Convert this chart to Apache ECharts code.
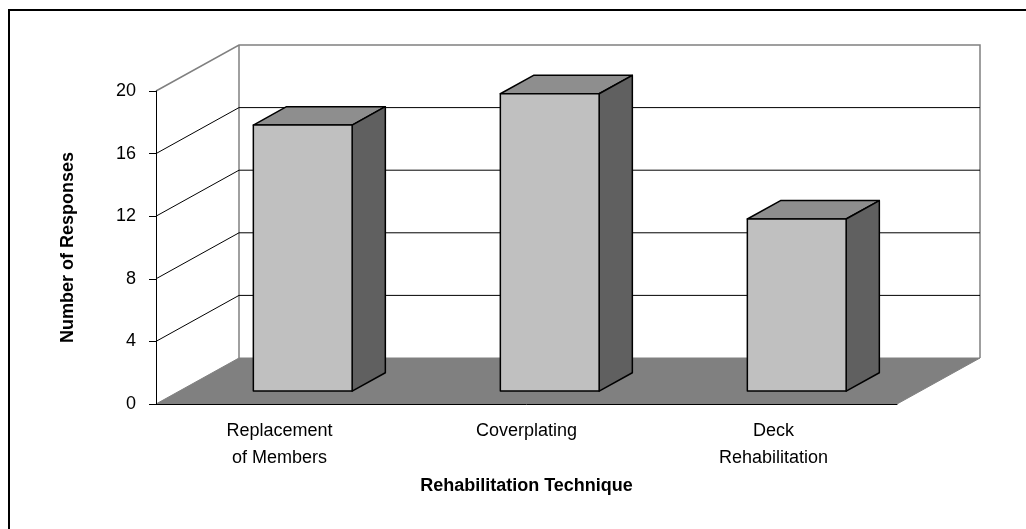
<!DOCTYPE html>
<html>
<head>
<meta charset="utf-8">
<script src="https://cdn.jsdelivr.net/npm/echarts@6/dist/echarts.min.js"></script>
<style>
  html, body { margin: 0; padding: 0; background: #fff; }
  #chart { width: 1026px; height: 529px; }
</style>
</head>
<body>
<div id="chart"></div>
<script>
// data
const categories = ['Replacement\nof Members', 'Coverplating', 'Deck\nRehabilitation']
const responses = [17, 19, 11]
const gridValues = [4, 8, 12, 16] // inner gridlines on the walls
const yMax = 20
const yStep = 4

// 3d look: offset of the back wall, and where the bars sit in depth
const DEPTH_X = 83
const DEPTH_Y = -46
const BAR_D0 = 0.28
const BAR_D1 = 0.68
const BAR_FRAC = 0.4
const FONT = "'Liberation Sans', Arial, sans-serif"

const chart = echarts.init(document.getElementById('chart'))

// floor + walls, built from the grid rect
function renderFrame(params, api) {
  const cs = params.coordSys
  const l = cs.x, r = cs.x + cs.width
  const t = cs.y, b = cs.y + cs.height
  const line = { stroke: '#808080', lineWidth: 1.5, fill: null }
  return {
    type: 'group',
    children: [
      {
        type: 'polygon',
        shape: { points: [[l, b], [l + DEPTH_X, b + DEPTH_Y], [r + DEPTH_X, b + DEPTH_Y], [r, b]] },
        style: { fill: '#808080', stroke: '#808080', lineWidth: 1 }
      },
      {
        type: 'polyline',
        shape: { points: [[l, t], [l + DEPTH_X, t + DEPTH_Y], [r + DEPTH_X, t + DEPTH_Y], [r + DEPTH_X, b + DEPTH_Y]] },
        style: line
      },
      {
        type: 'line',
        shape: { x1: l + DEPTH_X, y1: t + DEPTH_Y, x2: l + DEPTH_X, y2: b + DEPTH_Y },
        style: line
      }
    ]
  }
}

function renderGridLine(params, api) {
  const cs = params.coordSys
  const y = api.coord([0, api.value(0)])[1]
  const l = cs.x, r = cs.x + cs.width
  return {
    type: 'polyline',
    shape: { points: [[l, y], [l + DEPTH_X, y + DEPTH_Y], [r + DEPTH_X, y + DEPTH_Y]] },
    style: { stroke: '#000', lineWidth: 1, fill: null }
  }
}

function renderBar(params, api) {
  const cat = api.value(0)
  const val = api.value(1)
  const base = api.coord([cat, 0])
  const top = api.coord([cat, val])
  const bw = api.size([1, 0])[0] * BAR_FRAC
  const x0 = base[0] - bw / 2 + DEPTH_X * BAR_D0
  const x1 = x0 + bw
  const y0 = base[1] + DEPTH_Y * BAR_D0
  const y1 = top[1] + DEPTH_Y * BAR_D0
  const dx = DEPTH_X * (BAR_D1 - BAR_D0)
  const dy = DEPTH_Y * (BAR_D1 - BAR_D0)
  const edge = { stroke: '#000', lineWidth: 1.5, lineJoin: 'round' }
  return {
    type: 'group',
    children: [
      {
        type: 'polygon',
        shape: { points: [[x0, y1], [x0 + dx, y1 + dy], [x1 + dx, y1 + dy], [x1, y1]] },
        style: Object.assign({ fill: '#8e8e8e' }, edge)
      },
      {
        type: 'polygon',
        shape: { points: [[x1, y1], [x1 + dx, y1 + dy], [x1 + dx, y0 + dy], [x1, y0]] },
        style: Object.assign({ fill: '#606060' }, edge)
      },
      {
        type: 'rect',
        shape: { x: x0, y: y1, width: bw, height: y0 - y1 },
        style: Object.assign({ fill: '#c0c0c0' }, edge)
      }
    ]
  }
}

const option = {
  backgroundColor: '#fff',
  animation: false,
  textStyle: { fontFamily: FONT },
  graphic: [
    {
      type: 'rect',
      shape: { x: 9, y: 10, width: 1100, height: 600 },
      style: { fill: null, stroke: '#000', lineWidth: 2 },
      silent: true
    }
  ],
  grid: {
    left: 156,
    top: 91,
    width: 741,
    height: 313
  },
  xAxis: {
    type: 'category',
    data: categories,
    z: 10,
    name: 'Rehabilitation Technique',
    nameLocation: 'middle',
    nameGap: 69,
    nameTextStyle: { fontSize: 18, fontWeight: 'bold', color: '#000', fontFamily: FONT },
    axisLine: { lineStyle: { color: '#000', width: 1 } },
    axisTick: { length: 7, lineStyle: { color: '#000' } },
    axisLabel: { fontSize: 18, color: '#000', margin: 14, lineHeight: 27, interval: 0, fontFamily: FONT }
  },
  yAxis: {
    type: 'value',
    min: 0,
    max: yMax,
    interval: yStep,
    z: 10,
    name: 'Number of Responses',
    nameLocation: 'middle',
    nameGap: 79,
    nameTextStyle: { fontSize: 18, fontWeight: 'bold', color: '#000', fontFamily: FONT },
    axisLine: { show: true, lineStyle: { color: '#000', width: 1 } },
    axisTick: { show: true, length: 7, lineStyle: { color: '#000' } },
    axisLabel: { fontSize: 18, color: '#000', margin: 20, fontFamily: FONT },
    splitLine: { show: false }
  },
  series: [
    {
      type: 'custom',
      name: 'frame',
      renderItem: renderFrame,
      data: [[0, 0]],
      clip: false,
      silent: true,
      z: 1
    },
    {
      type: 'custom',
      name: 'gridlines',
      renderItem: renderGridLine,
      encode: { y: 0 },
      data: gridValues.map(v => [v]),
      clip: false,
      silent: true,
      z: 2
    },
    {
      type: 'custom',
      name: 'Responses',
      renderItem: renderBar,
      encode: { x: 0, y: 1 },
      data: responses.map((v, i) => [i, v]),
      clip: false,
      z: 3
    }
  ]
}

chart.setOption(option)
</script>
</body>
</html>
